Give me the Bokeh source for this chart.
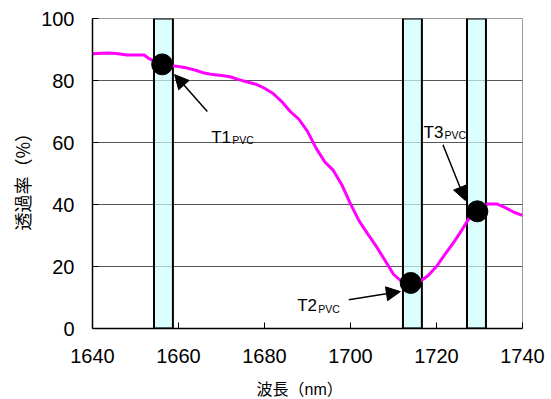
from bokeh.plotting import figure
from bokeh.models import FixedTicker, Arrow, NormalHead, ColumnDataSource, Title
from bokeh.core.properties import value
from bokeh.embed import file_html
from bokeh.resources import INLINE

# ---- data ----
wavelength = [1640, 1642, 1644, 1646, 1648, 1650, 1652, 1653, 1654, 1656, 1658, 1660,
              1662, 1664, 1666, 1668, 1670, 1672, 1674, 1676, 1678, 1680, 1682, 1684,
              1686, 1688, 1690, 1692, 1694, 1696, 1698, 1700, 1702, 1704, 1706, 1708,
              1710, 1712, 1714, 1716, 1718, 1720, 1722, 1724, 1726, 1728, 1730, 1732,
              1734, 1736, 1738, 1740]
transmittance = [88.6, 88.8, 88.9, 88.6, 88.2, 88.2, 88.2, 87.2, 86.5, 85.3, 84.8, 84.5,
                 84.0, 83.3, 82.4, 81.9, 81.6, 81.2, 80.3, 79.5, 78.8, 77.5, 75.8, 73.2,
                 70.0, 67.5, 63.6, 58.2, 53.8, 51.0, 46.3, 40.2, 34.7, 30.5, 26.5, 22.0,
                 17.5, 15.0, 14.3, 15.0, 17.0, 20.0, 24.0, 27.8, 32.0, 36.5, 38.5, 40.2,
                 40.2, 39.0, 37.5, 36.5]

band_centers = [1656.5, 1714.4, 1729.3]
band_width = 4.4

point_names = ["T1", "T2", "T3"]
point_wl = [1656.2, 1714.0, 1729.5]
point_t = [85.2, 14.7, 37.8]

x_ticks = [1640, 1660, 1680, 1700, 1720, 1740]
y_ticks = [0, 20, 40, 60, 80, 100]

x_title = "波長（nm）"
y_title = "透過率（%）"
subscript = "PVC"

# ---- figure ----
p = figure(width=551, height=399, x_range=(1640, 1740), y_range=(0, 100),
           output_backend="svg", toolbar_location=None,
           min_border_left=92, min_border_right=29, min_border_top=18,
           min_border_bottom=71)
p.background_fill_color = "white"
p.border_fill_color = "white"
p.outline_line_color = "#999999"
p.outline_line_width = 1

p.xgrid.grid_line_color = None
p.ygrid.grid_line_color = "#555555"
p.ygrid.grid_line_width = 1
p.ygrid.ticker = FixedTicker(ticks=y_ticks)

for ax in (p.xaxis[0], p.yaxis[0]):
    ax.axis_line_color = "black"
    ax.axis_line_width = 1.5
    ax.major_tick_line_color = "black"
    ax.major_tick_in = 6
    ax.major_tick_out = 0
    ax.minor_tick_line_color = None
    ax.major_label_text_font = "Liberation Sans"
    ax.major_label_text_font_size = "20px"
    ax.major_label_text_color = "black"

p.xaxis[0].ticker = FixedTicker(ticks=x_ticks)
p.yaxis[0].ticker = FixedTicker(ticks=y_ticks)
p.xaxis[0].major_label_standoff = 20
p.yaxis[0].major_label_standoff = 18

# axis titles as side titles
p.add_layout(Title(text=" ", text_font_size="1px", standoff=9), "below")  # spacer
p.add_layout(Title(text=x_title, align="left", offset=164,
                   text_font="Liberation Sans, Noto Sans CJK JP",
                   text_font_size="16px", text_font_style="normal", text_color="black",
                   standoff=2), "below")
p.add_layout(Title(text=y_title, align="left", offset=98, text_font="Noto Sans CJK JP",
                   text_font_size="18px", text_font_style="normal", text_color="black",
                   standoff=8), "left")

# bands
bsrc = ColumnDataSource(dict(left=[c - band_width / 2 for c in band_centers],
                             right=[c + band_width / 2 for c in band_centers]))
p.quad(left="left", right="right", bottom=0, top=100, source=bsrc,
       fill_color="#CCFFFF", fill_alpha=0.7, line_color="black", line_width=2)

# curve
p.line(wavelength, transmittance, line_color="#FF00FF", line_width=3)

# points
p.scatter(point_wl, point_t, size=21, fill_color="black", line_color="black")

# labels
label_pos = {"T1": (1667.6, 61.7), "T2": (1687.6, 7.4), "T3": (1717.0, 63.3)}
lx = [label_pos[n][0] for n in point_names]
ly = [label_pos[n][1] for n in point_names]
p.text(lx, ly, text=point_names, text_font=value("Liberation Sans"),
       text_font_size="17px", text_color="black", text_baseline="alphabetic",
       text_align="left")
p.text(lx, ly, text=[subscript] * 3, text_font=value("Liberation Sans"),
       text_font_size="10.5px", text_color="black", text_baseline="alphabetic",
       text_align="left", x_offset=21, y_offset=3)

# arrows
arrows = [((1666.7, 70.0), (1659.1, 81.9)),
          ((1699.6, 9.3), (1711.6, 11.9)),
          ((1721.5, 59.3), (1726.7, 41.3))]
for (xs, ys), (xe, ye) in arrows:
    p.add_layout(Arrow(end=NormalHead(size=14, fill_color="black", line_color="black"),
                       x_start=xs, y_start=ys, x_end=xe, y_end=ye,
                       line_color="black", line_width=1.5))

open("out.html", "w").write(file_html(p, INLINE))
